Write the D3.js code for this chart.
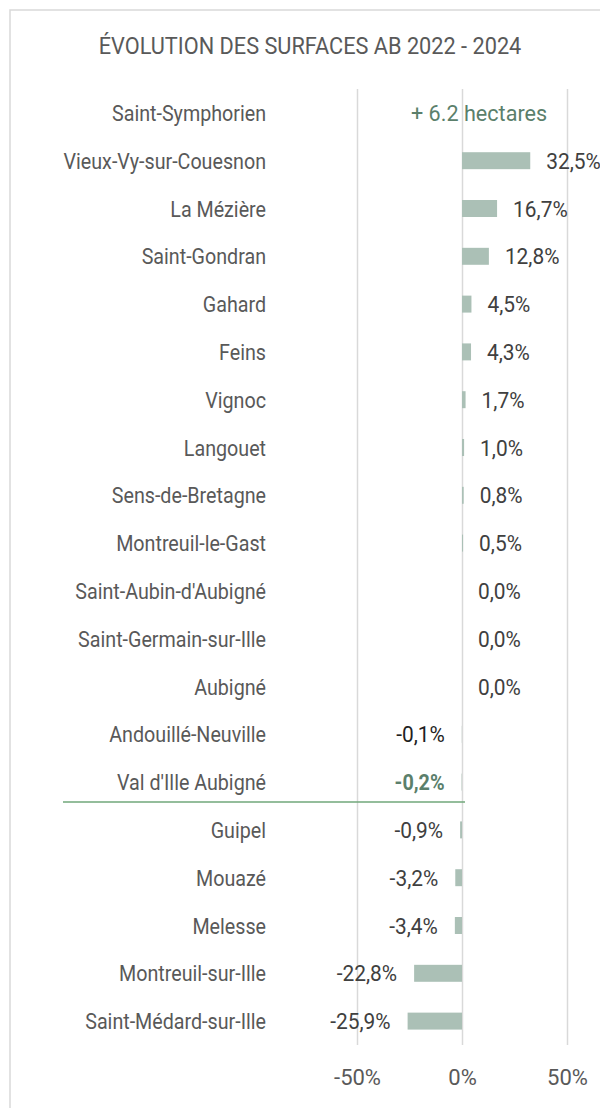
<!DOCTYPE html>
<html>
<head>
<meta charset="utf-8">
<script src="https://cdn.jsdelivr.net/npm/d3@7"></script>
<style>
  html, body { margin: 0; padding: 0; background: #fff; }
  svg { display: block; }
  text { font-family: Roboto, "Noto Sans", sans-serif; }
</style>
</head>
<body>
<svg id="chart" width="600" height="1108"></svg>
<script>
const title = "ÉVOLUTION DES SURFACES AB 2022 - 2024";
const categories = [
  "Saint-Symphorien", "Vieux-Vy-sur-Couesnon", "La Mézière", "Saint-Gondran",
  "Gahard", "Feins", "Vignoc", "Langouet", "Sens-de-Bretagne",
  "Montreuil-le-Gast", "Saint-Aubin-d'Aubigné", "Saint-Germain-sur-Ille",
  "Aubigné", "Andouillé-Neuville", "Val d'Ille Aubigné", "Guipel",
  "Mouazé", "Melesse", "Montreuil-sur-Ille", "Saint-Médard-sur-Ille"
];
const values = [null, 32.5, 16.7, 12.8, 4.5, 4.3, 1.7, 1.0, 0.8, 0.5,
  0.0, 0.0, 0.0, -0.1, -0.2, -0.9, -3.2, -3.4, -22.8, -25.9];
const tickValues = [-50, 0, 50];
const annotations = { "Saint-Symphorien": "+ 6.2 hectares" };
const highlight = "Val d'Ille Aubigné";

const svg = d3.select("#chart");

// frame
svg.append("rect").attr("x", 10).attr("y", 10).attr("width", 700).attr("height", 1300)
  .attr("fill", "none").attr("stroke", "#d9d9d9").attr("stroke-width", 1.5);

const x = d3.scaleLinear().domain([-50, 50]).range([357, 567]);
const y = d3.scaleBand().domain(categories).range([89, 1045]).paddingInner(0.645).paddingOuter(0.3225);
const rowC = c => y(c) + y.bandwidth() / 2;
const step = y.step();

function txt(g, tx, ty, s, anchor, opts = {}) {
  return g.append("text")
    .attr("transform", `translate(${tx},${ty}) scale(${opts.sx || 0.875},1)`)
    .attr("text-anchor", anchor)
    .attr("font-size", opts.size || 22.5)
    .attr("font-weight", opts.weight || 400)
    .attr("fill", opts.fill || "#595959")
    .text(s);
}

// title
txt(svg, 310, 54, title, "middle", { fill: "#595959", size: 23, sx: 0.945 });

// gridlines + axis
const axis = d3.axisBottom(x).tickValues(tickValues).tickSize(0).tickFormat(d => d + "%");
const ag = svg.append("g").attr("transform", "translate(0,1045)").call(axis);
ag.select(".domain").remove();
ag.selectAll(".tick text").remove();
ag.selectAll(".tick").each(function(d) {
  const t = d3.select(this);
  t.append("line").attr("x1", 0).attr("x2", 0).attr("y1", 0).attr("y2", 89 - 1045)
    .attr("stroke", "#d9d9d9").attr("stroke-width", 1.5);
  txt(t, 0, 40, d + "%", "middle", { fill: "#595959", size: 22, sx: 1.0 });
});

// category labels
const lg = svg.append("g");
categories.forEach(c => txt(lg, 266, rowC(c) + 8, c, "end", { fill: "#595959" }));

// bars
const data = categories.map((c, i) => ({ c, v: values[i] }));
svg.append("g").selectAll("rect").data(data.filter(d => d.v !== null)).join("rect")
  .attr("x", d => x(Math.min(0, d.v)))
  .attr("width", d => Math.abs(x(d.v) - x(0)))
  .attr("y", d => y(d.c))
  .attr("height", y.bandwidth())
  .attr("fill", "#abc0b6");

// value labels
const fmt = v => v.toFixed(1).replace(".", ",") + "%";
const vg = svg.append("g");
data.forEach(d => {
  const cy = rowC(d.c) + 8;
  if (d.v === null) {
    if (annotations[d.c]) txt(vg, x(0) - 51, cy, annotations[d.c], "start", { fill: "#5b7f6b", sx: 0.96 });
    return;
  }
  const isHi = d.c === highlight;
  const opts = isHi ? { fill: "#5b7f6b", weight: 700, size: 22, sx: 0.9 }
    : { fill: d.c === "Andouillé-Neuville" ? "#1f1f1f" : "#404040", size: 22, sx: 0.95 };
  if (d.v < 0 || isHi) txt(vg, x(d.v) - 17, cy, fmt(d.v), "end", opts);
  else txt(vg, x(d.v) + 16, cy, fmt(d.v), "start", opts);
});

// highlight separator line
const hiBottom = y(highlight) + y.bandwidth() + (step - y.bandwidth()) / 2 - 4;
svg.append("line").attr("x1", 63).attr("x2", 465).attr("y1", hiBottom).attr("y2", hiBottom)
  .attr("stroke", "#70a77a").attr("stroke-width", 1.5);
</script>
</body>
</html>
